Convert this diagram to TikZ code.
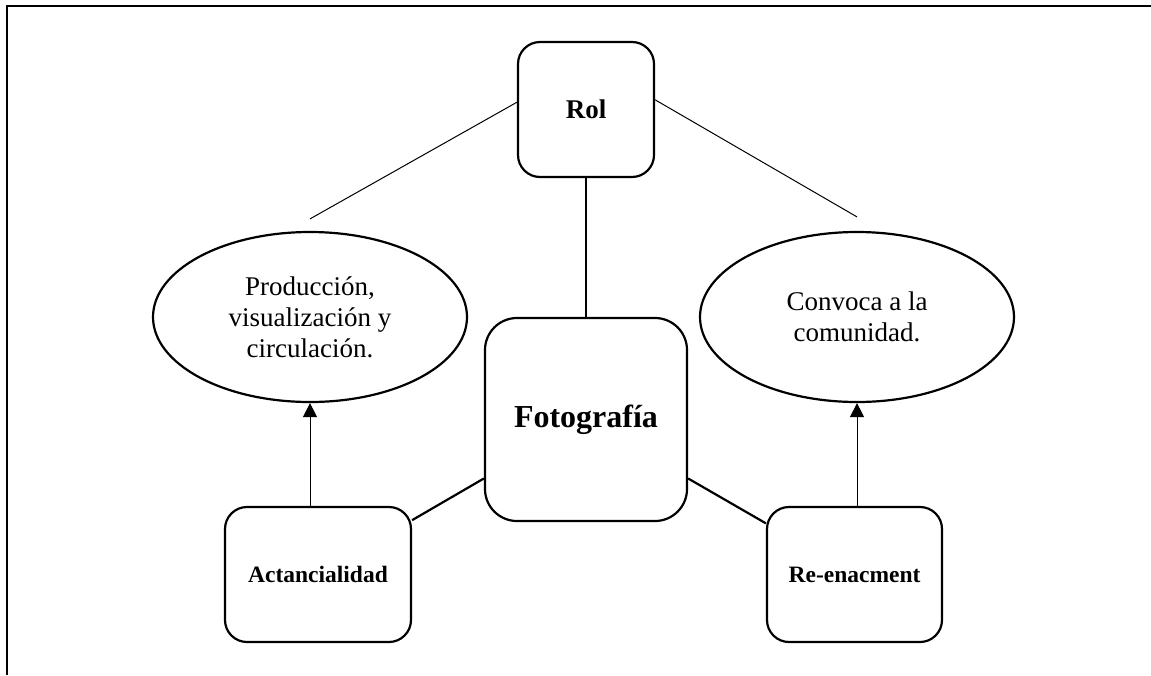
\documentclass[tikz,border=0pt]{standalone}
\usepackage{fontspec}
\setmainfont{Liberation Serif}
\usetikzlibrary{shapes.geometric,arrows.meta}

\begin{document}
\begin{tikzpicture}[x=1pt,y=-1pt,
        caja/.style={draw,line width=2.2pt,rounded corners=22pt,inner sep=0pt,font=\bfseries\fontsize{23.5}{28}\selectfont},
        globo/.style={draw,ellipse,line width=2.2pt,inner sep=0pt,minimum width=314pt,minimum height=170pt,align=center,font=\fontsize{27}{31}\selectfont},
        fino/.style={line width=1pt},
        grueso/.style={line width=2.2pt}]
        \useasboundingbox (0,0) rectangle (1151,675);
        \draw[line width=2.2pt] (7,675) -- (7,6) -- (1151,6);
        \node[caja,minimum width=136pt,minimum height=135pt,font=\bfseries\fontsize{27}{32}\selectfont] (rol) at (586,109.5) {Rol};
        \node[caja,rounded corners=32pt,minimum width=202pt,minimum height=203pt,font=\bfseries\fontsize{32}{38}\selectfont] (foto) at (586,419.5) {Fotografía};
        \node[caja,minimum width=186pt,minimum height=135pt] (act) at (318,574.5) {Actancialidad};
        \node[caja,minimum width=175pt,minimum height=135pt] (ren) at (854.5,574.5) {Re-enacment};
        \node[globo] (prod) at (310,317) {Producción,\\visualización y\\circulación.};
        \node[globo] (conv) at (857,317) {Convoca a la\\comunidad.};
        \coordinate (sobreprod) at ([yshift=12pt]prod.north);
        \coordinate (sobreconv) at ([yshift=14pt]conv.north);
        \draw[fino] (rol.174) -- (sobreprod);
        \draw[fino] (rol.8) -- (sobreconv);
        \draw[grueso] (rol.south) -- (foto.north);
        \draw[grueso] (foto.210) -- (act.30);
        \draw[grueso] (foto.330) -- (ren.150);
        \draw[fino,-{Triangle[width=14pt,length=14pt]}] (act.north -| prod.south) -- (prod.south);
        \draw[fino,-{Triangle[width=14pt,length=14pt]}] (ren.north -| conv.south) -- (conv.south);
    \end{tikzpicture}
\end{document}
